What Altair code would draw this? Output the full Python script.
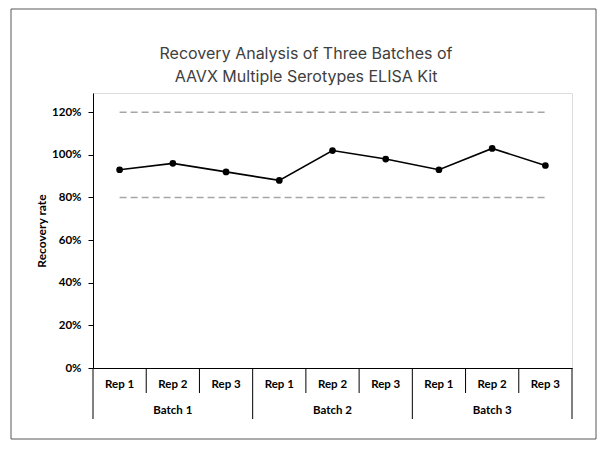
import altair as alt
import pandas as pd

title_lines = ["Recovery Analysis of Three Batches of", "AAVX Multiple Serotypes ELISA Kit"]
batches = ["Batch 1", "Batch 2", "Batch 3"]
reps = ["Rep 1", "Rep 2", "Rep 3"]
recovery = [0.93, 0.96, 0.92, 0.88, 1.02, 0.98, 0.93, 1.03, 0.95]
limits = [0.80, 1.20]
y_ticks = [0, 0.2, 0.4, 0.6, 0.8, 1.0, 1.2]

rows = []
i = 0
for b in batches:
    for r in reps:
        rows.append({"pos": i + 0.5, "batch": b, "rep": r, "rate": recovery[i]})
        i += 1
df = pd.DataFrame(rows)
n = len(df)

lim_df = pd.DataFrame([{"lim": v, "x1": 0.5, "x2": n - 0.5} for v in limits])
short_sep = pd.DataFrame({"x": [k for k in range(1, n) if k % len(reps) != 0]})
long_sep = pd.DataFrame({"x": [k for k in range(0, n + 1) if k % len(reps) == 0]})
batch_df = pd.DataFrame({"batch": batches,
                         "pos": [j * len(reps) + len(reps) / 2 for j in range(len(batches))]})

W, H = 479, 275
xscale = alt.Scale(domain=[0, n])
yscale = alt.Scale(domain=[0, 1.29])
LABEL_FONT = "Lato"

x_axis = alt.Axis(title=None, labels=False, ticks=False, grid=False,
                  domainColor="black", domainWidth=1)
y_axis = alt.Axis(values=y_ticks, format=".0%", grid=False, tickSize=5,
                  tickColor="black", domainColor="black", labelPadding=7,
                  labelFont=LABEL_FONT, labelFontWeight="bold", labelFontSize=11.5,
                  labelColor="black", title="Recovery rate", titleFont=LABEL_FONT,
                  titleFontWeight="bold", titleFontSize=12, titleColor="black",
                  titlePadding=3)

limit_lines = alt.Chart(lim_df).mark_rule(color="#A6A6A6", strokeWidth=1.5,
                                          strokeDash=[7, 4]).encode(
    x=alt.X("x1:Q", scale=xscale, axis=x_axis),
    x2="x2:Q",
    y=alt.Y("lim:Q", scale=yscale, axis=y_axis),
)

line = alt.Chart(df).mark_line(color="black", strokeWidth=1.6).encode(
    x=alt.X("pos:Q", scale=xscale),
    y=alt.Y("rate:Q", scale=yscale),
)
points = alt.Chart(df).mark_point(filled=True, color="black", size=45, opacity=1).encode(
    x=alt.X("pos:Q", scale=xscale),
    y=alt.Y("rate:Q", scale=yscale),
)

short_rules = alt.Chart(short_sep).mark_rule(color="black", strokeWidth=1).encode(
    x=alt.X("x:Q", scale=xscale), y=alt.value(H), y2=alt.value(H + 25))
long_rules = alt.Chart(long_sep).mark_rule(color="black", strokeWidth=1).encode(
    x=alt.X("x:Q", scale=xscale), y=alt.value(H), y2=alt.value(H + 51))

rep_text = alt.Chart(df).mark_text(font=LABEL_FONT, fontWeight="bold", fontSize=11.5,
                                   color="black", baseline="middle").encode(
    x=alt.X("pos:Q", scale=xscale), y=alt.value(H + 17), text="rep:N")
batch_text = alt.Chart(batch_df).mark_text(font=LABEL_FONT, fontWeight="bold", fontSize=11.5,
                                           color="black", baseline="middle").encode(
    x=alt.X("pos:Q", scale=xscale), y=alt.value(H + 43), text="batch:N")

one = pd.DataFrame({"a": [0]})
border = alt.Chart(one).mark_rect(
    filled=False, stroke="#595959", strokeWidth=1).encode(
    x=alt.value(-82), x2=alt.value(503), y=alt.value(-84), y2=alt.value(346))

title = alt.Chart(one).mark_text(
    font="Inter", fontSize=16, fontWeight="normal", color="#404040",
    align="center", baseline="top", lineHeight=23).encode(
    x=alt.value(213), y=alt.value(-47), text=alt.value(title_lines))

chart = alt.layer(
    border, title, limit_lines, line, points, short_rules, long_rules, rep_text, batch_text
).properties(
    width=W, height=H,
    autosize=alt.AutoSizeParams(type="none"),
    padding={"left": 85, "top": 85, "right": 25, "bottom": 72},
).configure_view(stroke=None).configure(background="white")

chart.save("out.html", embed_options={"renderer": "svg", "actions": False})
